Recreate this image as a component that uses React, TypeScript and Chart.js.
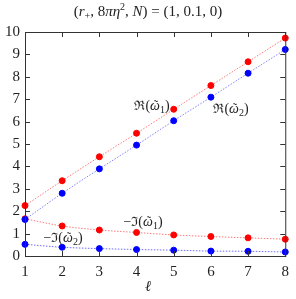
import React, { useEffect, useRef } from "react";
import { Chart, registerables } from "chart.js";

Chart.register(...registerables);

const ells = [1, 2, 3, 4, 5, 6, 7, 8];
const reOmega1 = [2.25, 3.36, 4.43, 5.48, 6.55, 7.61, 8.67, 9.73];
const reOmega2 = [1.63, 2.8, 3.89, 4.95, 6.04, 7.09, 8.16, 9.22];
const imOmega1 = [1.66, 1.34, 1.16, 1.05, 0.94, 0.87, 0.81, 0.75];
const imOmega2 = [0.52, 0.39, 0.33, 0.29, 0.26, 0.22, 0.21, 0.18];
const xTicks = [1, 2, 3, 4, 5, 6, 7, 8];
const yTicks = [0, 1, 2, 3, 4, 5, 6, 7, 8, 9, 10];

const SERIF = "'Liberation Serif', 'DejaVu Serif', serif";
const MATH = "'DejaVu Serif', serif";

type Run = [string, boolean, number?, number?, string?];

function drawRuns(ctx: CanvasRenderingContext2D, runs: Run[], cx: number, cy: number, size: number) {
  const f = ([, it, s, , fam]: Run) => `${it ? "italic " : ""}${s ?? size}px ${fam ?? SERIF}`;
  const widths = runs.map((r) => {
    ctx.font = f(r);
    return ctx.measureText(r[0]).width;
  });
  const total = widths.reduce((a, b) => a + b, 0);
  let x = cx - total / 2;
  const xs: number[] = [];
  ctx.textBaseline = "alphabetic";
  ctx.textAlign = "left";
  runs.forEach((r, i) => {
    ctx.font = f(r);
    xs.push(x);
    ctx.fillText(r[0], x, cy + (r[3] ?? 0));
    x += widths[i];
  });
  return { xs, widths };
}

const decor = {
  id: "decor",
  afterDraw(chart: any) {
    const ctx = chart.ctx as CanvasRenderingContext2D;
    const { left, right, top, bottom } = chart.chartArea;
    const xs = chart.scales.x;
    const ys = chart.scales.y;
    ctx.save();
    ctx.strokeStyle = "#333";
    ctx.lineWidth = 1;
    ctx.strokeRect(left + 0.5, top + 0.5, right - left, bottom - top);
    ctx.beginPath();
    xTicks.forEach((v) => {
      const px = Math.round(xs.getPixelForValue(v)) + 0.5;
      ctx.moveTo(px, bottom);
      ctx.lineTo(px, bottom - 5);
      ctx.moveTo(px, top);
      ctx.lineTo(px, top + 5);
    });
    yTicks.forEach((v) => {
      const py = Math.round(ys.getPixelForValue(v)) + 0.5;
      ctx.moveTo(left, py);
      ctx.lineTo(left + 5, py);
      ctx.moveTo(right, py);
      ctx.lineTo(right - 5, py);
    });
    ctx.stroke();

    ctx.fillStyle = "#222";
    drawRuns(
      ctx,
      [
        ["(", false],
        ["r", true],
        ["+", false, 10, 3],
        [", 8", false],
        ["πη", true],
        ["2", false, 10, -6],
        [", ", false],
        ["N", true],
        [") = (1, 0.1, 0)", false],
      ],
      148,
      16,
      15
    );
    ctx.font = `italic 15px ${SERIF}`;
    ctx.textAlign = "center";
    ctx.textBaseline = "middle";
    ctx.fillText("ℓ", 148, 287);

    const lab = (sign: string, op: string, sub: string, cx: number, cy: number) => {
      const { xs: px, widths } = drawRuns(
        ctx,
        [
          [sign, false, 14],
          [op, false, 13, 0, MATH],
          ["(", false, 14],
          ["ω", true, 14],
          [sub, false, 10, 3],
          [")", false, 14],
        ],
        cx,
        cy,
        14
      );
      ctx.font = `13px ${SERIF}`;
      ctx.textAlign = "center";
      ctx.textBaseline = "alphabetic";
      ctx.fillText("˜", px[3] + widths[3] / 2 + 1, cy - 1);
    };
    lab("", "ℜ", "1", 152, 110);
    lab("", "ℜ", "2", 231, 113);
    lab("−", "ℑ", "1", 143, 226);
    lab("−", "ℑ", "2", 63, 242);
    ctx.restore();
  },
};

function ds(data: number[], point: string, line: string) {
  return {
    data: data.map((y, i) => ({ x: ells[i], y })),
    borderColor: line,
    backgroundColor: point,
    pointBackgroundColor: point,
    pointBorderColor: point,
    pointRadius: 3,
    borderWidth: 1,
    borderDash: [1.5, 1.5],
    showLine: true,
    tension: 0.3,
    clip: false as any,
  };
}

export default function App() {
  const ref = useRef<HTMLCanvasElement>(null);
  useEffect(() => {
    document.body.style.margin = "0";
    const chart = new Chart(ref.current!, {
      type: "scatter",
      data: {
        datasets: [
          ds(reOmega1, "#ff0000", "rgba(255,80,80,0.75)"),
          ds(reOmega2, "#0000ff", "rgba(90,90,255,0.75)"),
          ds(imOmega1, "#ff0000", "rgba(255,80,80,0.75)"),
          ds(imOmega2, "#0000ff", "rgba(60,60,255,0.75)"),
        ],
      },
      options: {
        responsive: false,
        animation: false,
        events: [],
        layout: { padding: { top: 32, right: 5, left: 0, bottom: 0 } },
        plugins: { legend: { display: false }, tooltip: { enabled: false }, title: { display: false } },
        scales: {
          x: {
            type: "linear",
            min: 1,
            max: 8,
            border: { display: false },
            grid: { display: false, drawTicks: false },
            ticks: {
              stepSize: 1,
              padding: 7,
              color: "#222",
              font: { family: SERIF, size: 15 },
              maxRotation: 0,
            },
            afterFit: (s: any) => {
              s.height = 43;
            },
          },
          y: {
            type: "linear",
            min: 0,
            max: 10,
            border: { display: false },
            grid: { display: false, drawTicks: false },
            ticks: {
              stepSize: 1,
              padding: 5,
              color: "#222",
              font: { family: SERIF, size: 15 },
            },
            afterFit: (s: any) => {
              s.width = 25;
            },
          },
        },
      },
      plugins: [decor],
    });
    return () => chart.destroy();
  }, []);
  return (
    <div style={{ width: 296, height: 299 }}>
      <canvas ref={ref} width={296} height={299} />
    </div>
  );
}
